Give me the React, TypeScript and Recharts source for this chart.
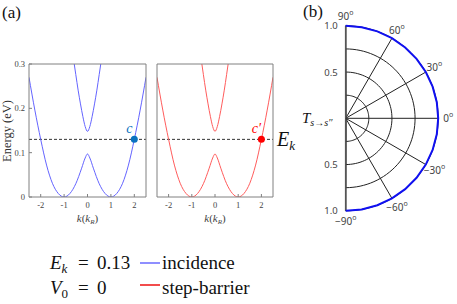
import React from 'react';
import {
  LineChart, Line, XAxis, YAxis, ReferenceLine, ReferenceDot,
  RadarChart, Radar, PolarGrid, PolarAngleAxis, PolarRadiusAxis,
} from 'recharts';

// panel (a): band structure
const kLower = [-2.5, -2.25, -2, -1.75, -1.5, -1.25, -1, -0.75, -0.5, -0.25, -0.1, 0, 0.1, 0.25, 0.5, 0.75, 1, 1.25, 1.5, 1.75, 2, 2.25, 2.5];
const eLower = [0.27, 0.196, 0.13, 0.072, 0.031, 0.008, 0, 0.008, 0.03, 0.065, 0.088, 0.097, 0.088, 0.065, 0.03, 0.008, 0, 0.008, 0.031, 0.072, 0.13, 0.196, 0.27];
const kUpper = [-0.6, -0.5, -0.4, -0.3, -0.2, -0.1, 0, 0.1, 0.2, 0.3, 0.4, 0.5, 0.6];
const eUpper = [0.312, 0.276, 0.241, 0.21, 0.182, 0.159, 0.148, 0.159, 0.182, 0.21, 0.241, 0.276, 0.312];
const kTicks = [-2, -1, 0, 1, 2];
const eTicks = [0, 0.1, 0.2, 0.3];
const Ek = 0.13;
const kc = 2;

// panel (b): transmission vs incidence angle
const angles = [-90, -80, -70, -60, -50, -40, -30, -20, -10, 0, 10, 20, 30, 40, 50, 60, 70, 80, 90];
const transmission = [1, 1, 1, 1, 1, 1, 1, 1, 1, 1, 1, 1, 1, 1, 1, 1, 1, 1, 1];
const angleTicks = [-90, -60, -30, 0, 30, 60, 90];
const radiusTicks = [0, 0.5, 1];
const gridT = [0.25, 0.5, 0.75, 1];

const lowerBand = kLower.map((k, i) => ({ k, E: eLower[i] }));
const upperBand = kUpper.map((k, i) => ({ k, E: eUpper[i] }));
const polarData = angles.map((angle, i) => ({ angle, T: transmission[i] }));

const serif = '"Liberation Serif", "Times New Roman", serif';
const sans = '"Noto Sans", "DejaVu Sans", sans-serif';
const axisGray = '#808080';
const polarCy = 118.3;

type PanelProps = { color: string; dotColor: string; mark: string; yLabels: boolean; width: number; left: number; right: number };

function BandPanel({ color, dotColor, mark, yLabels, width, left, right }: PanelProps) {
  const tickStyle = { fontSize: 8.5, fontFamily: serif, fill: '#444' };
  return (
    <LineChart width={width} height={175} margin={{ top: 13, right, bottom: 1, left }}>
      <XAxis xAxisId="b" type="number" dataKey="k" domain={[-2.5, 2.5]} ticks={kTicks} interval={0}
        allowDataOverflow height={27} stroke={axisGray} tickSize={-3} tickMargin={8} tick={tickStyle} />
      <XAxis xAxisId="t" orientation="top" type="number" dataKey="k" domain={[-2.5, 2.5]} ticks={kTicks} interval={0}
        allowDataOverflow height={1} stroke={axisGray} tickSize={-3} tick={false} />
      <YAxis yAxisId="l" type="number" domain={[0, 0.3]} ticks={eTicks} interval={0} allowDataOverflow
        width={yLabels ? 24 : 5} stroke={axisGray} tickSize={-3} tickMargin={7} tick={yLabels ? tickStyle : false} />
      <YAxis yAxisId="r" orientation="right" type="number" domain={[0, 0.3]} ticks={eTicks} interval={0} allowDataOverflow
        width={1} stroke={axisGray} tickSize={-3} tick={false} />
      <ReferenceLine xAxisId="b" yAxisId="l" y={Ek} stroke="#333" strokeDasharray="3 2" />
      <Line xAxisId="b" yAxisId="l" data={lowerBand} dataKey="E" type="monotone" stroke={color}
        strokeWidth={1} dot={false} isAnimationActive={false} />
      <Line xAxisId="b" yAxisId="l" data={upperBand} dataKey="E" type="monotone" stroke={color}
        strokeWidth={1} dot={false} isAnimationActive={false} />
      <ReferenceDot xAxisId="b" yAxisId="l" x={kc} y={Ek} r={3.5} fill={dotColor} stroke="none"
        label={{ value: mark, position: 'top', offset: 3, dx: -5, fill: dotColor, fontSize: 14, fontStyle: 'italic', fontFamily: serif }} />
    </LineChart>
  );
}

const renderAngleTick = (props: any) => {
  const { x, y, payload } = props;
  const v = payload.value;
  const s = v < 0 ? '\u2212' + Math.abs(v) : String(v);
  return (
    <text x={x} y={y} textAnchor="middle" dominantBaseline="central" fontSize={10} fontFamily={sans} fill="#444">
      {s}<tspan dy={-4} fontSize={7}>o</tspan>
    </text>
  );
};

// radius labels are repeated on the lower half of the axis as in the figure
const renderRadiusTick = (props: any) => {
  const { x, y, payload } = props;
  if (payload.value === 0) return <g />;
  const label = Number(payload.value).toFixed(1);
  return (
    <g fontSize={9.5} fontFamily={sans} fill="#444">
      <text x={x - 8} y={y} textAnchor="end" dominantBaseline="central">{label}</text>
      <text x={x - 8} y={2 * polarCy - y} textAnchor="end" dominantBaseline="central">{label}</text>
    </g>
  );
};

const openArc = (props: any) => {
  const pts = props.points || [];
  const d = pts.map((p: any, i: number) => `${i ? 'L' : 'M'}${p.x},${p.y}`).join(' ');
  return <path d={d} fill="none" stroke="#1010f0" strokeWidth={2} />;
};

function PolarPanel() {
  const R = 92.5;
  const arcAngles = Array.from({ length: 61 }, (_, i) => -90 + i * 3);
  return (
    <RadarChart width={177} height={240} data={polarData} cx={65.7} cy={polarCy} outerRadius={R} innerRadius={0}
      startAngle={-90} endAngle={90} margin={{ top: 0, right: 0, bottom: 0, left: 0 }}>
      <PolarGrid gridType="polygon" polarAngles={arcAngles} polarRadius={gridT.map((t) => t * R)} radialLines={false} stroke="#222" />
      <PolarGrid gridType="polygon" polarAngles={angleTicks} polarRadius={[]} stroke="#222" />
      <PolarGrid gridType="polygon" polarAngles={[90, -90]} polarRadius={[]} stroke="#555" strokeWidth={1.6} />
      <PolarAngleAxis dataKey="angle" type="number" domain={[-90, 90]} tickCount={7} axisLine={false}
        tickLine={false} tickSize={10} tick={renderAngleTick} />
      <PolarRadiusAxis angle={90} type="number" domain={[0, 1]} ticks={radiusTicks} tickCount={3}
        axisLine={false} tick={renderRadiusTick} />
      <Radar dataKey="T" stroke="#1010f0" strokeWidth={2} fill="none" dot={false} shape={openArc} isAnimationActive={false} />
    </RadarChart>
  );
}

export default function App() {
  return (
    <div style={{ position: 'absolute', left: 0, top: 0, width: 457, height: 304, background: '#fff', overflow: 'hidden' }}>
      <div style={{ position: 'absolute', left: 0, top: 50 }}>
        <BandPanel color="#6464ff" dotColor="#0a72c0" mark="c" yLabels width={150} left={5} right={3} />
      </div>
      <div style={{ position: 'absolute', left: 150, top: 50 }}>
        <BandPanel color="#ff5c5c" dotColor="#ff0000" mark={'c\u2032'} yLabels={false} width={128} left={2} right={4} />
      </div>
      <div style={{ position: 'absolute', left: 280, top: 0 }}>
        <PolarPanel />
      </div>
      <svg width={457} height={304} style={{ position: 'absolute', left: 0, top: 0, pointerEvents: 'none' }}>
        <g fontFamily={serif} fill="#111">
          <text x={2} y={18} fontSize={17}>(a)</text>
          <text x={303} y={17} fontSize={17}>(b)</text>
          <text transform="translate(10.5,131) rotate(-90)" textAnchor="middle" fontSize={12.5} fill="#333">Energy (eV)</text>
          <text x={87.5} y={222} textAnchor="middle" fontSize={11} fill="#444">
            <tspan fontStyle="italic">k</tspan>(<tspan fontStyle="italic">k</tspan><tspan fontSize={7} dy={2} fontStyle="italic">R</tspan><tspan dy={-2}>)</tspan>
          </text>
          <text x={215} y={222} textAnchor="middle" fontSize={11} fill="#444">
            <tspan fontStyle="italic">k</tspan>(<tspan fontStyle="italic">k</tspan><tspan fontSize={7} dy={2} fontStyle="italic">R</tspan><tspan dy={-2}>)</tspan>
          </text>
          <text x={277} y={146} fontSize={20} fontStyle="italic">E<tspan fontSize={13} dy={4}>k</tspan></text>
          <text x={302} y={123} fontSize={15} fontStyle="italic">T<tspan fontSize={10} dy={3}>s{'\u2192'}s{'\u2032\u2032'}</tspan></text>

          <text x={50} y={269} fontSize={19} fontStyle="italic">E<tspan fontSize={13} dy={4}>k</tspan></text>
          <text x={78} y={269} fontSize={19}>=</text>
          <text x={97} y={269} fontSize={19}>0.13</text>
          <text x={50} y={294} fontSize={19} fontStyle="italic">V<tspan fontSize={13} dy={4} fontStyle="normal">0</tspan></text>
          <text x={78} y={294} fontSize={19}>=</text>
          <text x={97} y={294} fontSize={19}>0</text>

          <line x1={140} x2={160} y1={263} y2={263} stroke="#6a6aff" strokeWidth={1.5} />
          <text x={162} y={269} fontSize={19}>incidence</text>
          <line x1={140} x2={160} y1={285} y2={285} stroke="#ee1010" strokeWidth={1.5} />
          <text x={162} y={294} fontSize={19}>step-barrier</text>
        </g>
      </svg>
    </div>
  );
}
